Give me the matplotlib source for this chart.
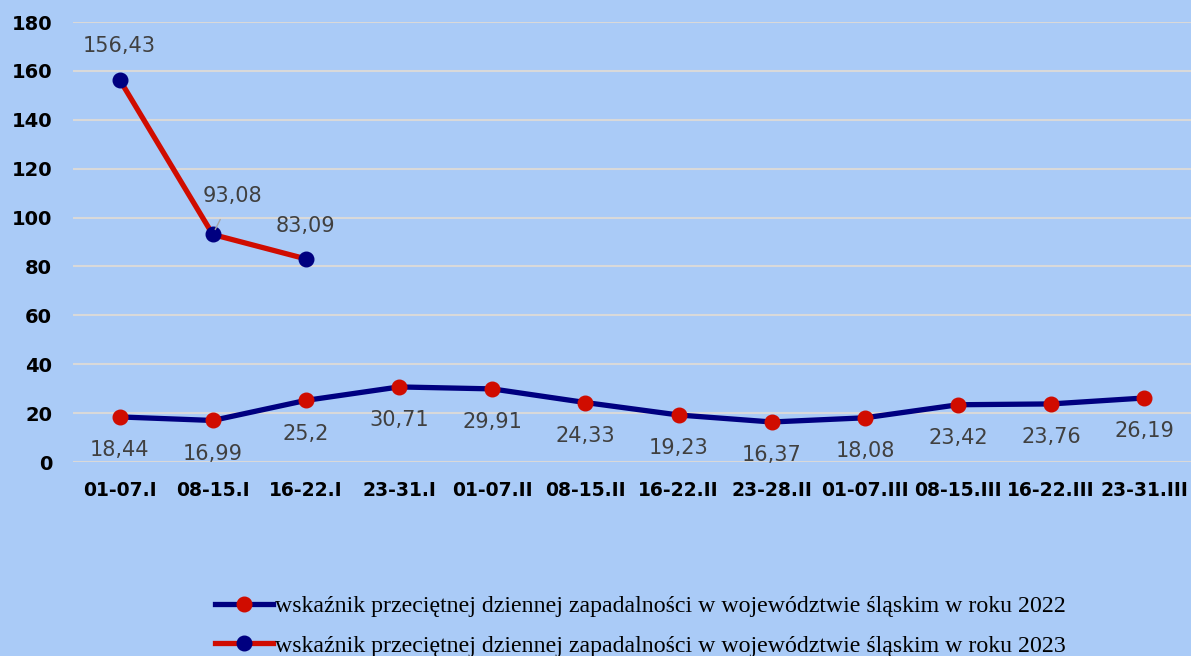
import numpy as np
import matplotlib.pyplot as plt

# categories (weeks) and values
weeks = ["01-07.I", "08-15.I", "16-22.I", "23-31.I", "01-07.II", "08-15.II",
         "16-22.II", "23-28.II", "01-07.III", "08-15.III", "16-22.III", "23-31.III"]
rate_2022 = [18.44, 16.99, 25.2, 30.71, 29.91, 24.33,
             19.23, 16.37, 18.08, 23.42, 23.76, 26.19]
rate_2023 = [156.43, 93.08, 83.09]

label_2022 = "wskaźnik przeciętnej dziennej zapadalności w województwie śląskim w roku 2022"
label_2023 = "wskaźnik przeciętnej dziennej zapadalności w województwie śląskim w roku 2023"

BG = "#AACBF7"
NAVY = "#000080"
RED = "#D00C00"
LABEL_GRAY = "#404040"


def fmt(v):
    return f"{v:g}".replace(".", ",")


fig = plt.figure(figsize=(11.91, 6.56), dpi=100, facecolor=BG)
ax = fig.add_axes([73 / 1191, (656 - 462) / 656, 1 - 73 / 1191, 440 / 656])
ax.set_facecolor(BG)

x22 = np.arange(len(rate_2022))
x23 = np.arange(len(rate_2023))

ax.plot(x22, rate_2022, color=NAVY, lw=3.8, marker="o", ms=10.5,
        mfc=RED, mec=RED, label=label_2022, zorder=3)
ax.plot(x23, rate_2023, color=RED, lw=3.8, marker="o", ms=10.5,
        mfc=NAVY, mec=NAVY, label=label_2023, zorder=3)

# data labels
lbl = dict(ha="center", va="center", fontsize=15, color=LABEL_GRAY,
           family="DejaVu Sans")
for xi, v in zip(x22, rate_2022):
    ax.annotate(fmt(v), (xi, v), xytext=(0, -24), textcoords="offset points", **lbl)
for xi, v in zip(x23, rate_2023):
    if xi == 1:
        ax.annotate(fmt(v), (xi, v), xytext=(14, 28), textcoords="offset points",
                    arrowprops=dict(arrowstyle="-", color="#A6A6A6", lw=1,
                                    shrinkA=9, shrinkB=4), **lbl)
    else:
        ax.annotate(fmt(v), (xi, v), xytext=(0, 24), textcoords="offset points", **lbl)

ax.set_xlim(-0.5, len(weeks) - 0.5)
ax.set_ylim(0, 180)
ax.set_yticks(np.arange(0, 181, 20))
ax.set_xticks(x22)
ax.set_xticklabels(weeks)
ax.grid(axis="y", color="#D9D9D9", lw=1.5, zorder=0)
ax.set_axisbelow(True)
for s in ax.spines.values():
    s.set_visible(False)
ax.tick_params(length=0)
ax.tick_params(axis="x", pad=14, labelsize=13.5)
ax.tick_params(axis="y", pad=15, labelsize=14)
for t in ax.get_xticklabels() + ax.get_yticklabels():
    t.set_fontweight("bold")
    t.set_family("DejaVu Sans")

leg = fig.legend(loc="upper center", bbox_to_anchor=(0.538, 0.125), ncol=1,
                 frameon=False, prop={"family": "Liberation Serif", "size": 17.2},
                 handlelength=2.4, handletextpad=0.1, labelspacing=0.74)

fig.savefig("out.png", dpi=100, facecolor=BG)
